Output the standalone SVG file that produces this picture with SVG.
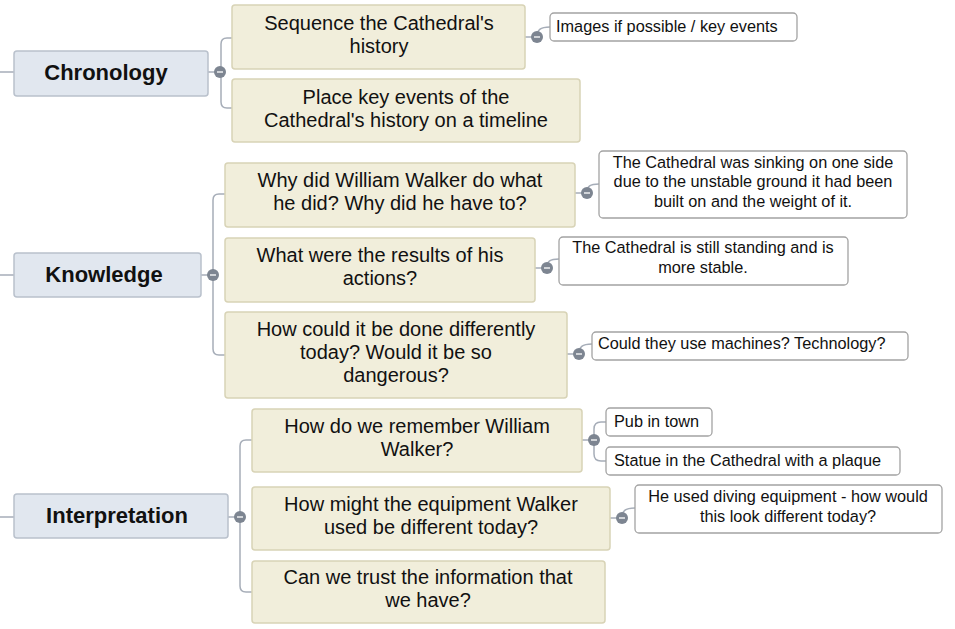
<svg xmlns="http://www.w3.org/2000/svg" width="955" height="629" viewBox="0 0 955 629">
<style>
.main rect{fill:#e1e7ef;stroke:#b9c1cc;stroke-width:1.5}
.main text{font-family:"Liberation Sans",Arial,sans-serif;font-weight:bold;font-size:22px;fill:#111;text-anchor:middle}
.q rect{fill:#f1eedb;stroke:#d8d3b6;stroke-width:1.5}
.q text{font-family:"Liberation Sans",Arial,sans-serif;font-size:20px;fill:#111;text-anchor:middle}
.a rect{fill:#fff;stroke:#a3a3a3;stroke-width:1.3}
.a text{font-family:"Liberation Sans",Arial,sans-serif;font-size:16.3px;fill:#111}
.a text.c{text-anchor:middle}
.conn path{fill:none;stroke:#a6adb8;stroke-width:1.5}
.dot circle{fill:#7d8591}
.dot path{stroke:#fff;stroke-width:1.3}
</style>
<g class="conn">
<path d="M0,72 H14"/>
<path d="M208,72 H221"/>
<path d="M232,38 H227 Q221,38 221,44 V102 Q221,108 227,108 H232"/>
<path d="M525,37 H537"/>
<path d="M537,37 C537,30 540,27 550,27"/>
<path d="M0,275 H14"/>
<path d="M201,275 H213"/>
<path d="M225,194 H219 Q213,194 213,200 V349 Q213,355 219,355 H225"/>
<path d="M575,193 H587"/>
<path d="M587,193 C587,186 590,184 599,184"/>
<path d="M535,268 H547"/>
<path d="M547,268 C547,261 550,259 559,259"/>
<path d="M567,354 H579"/>
<path d="M579,354 C579,347 582,344 592,344"/>
<path d="M0,517 H14"/>
<path d="M228,517 H240"/>
<path d="M252,440 H246 Q240,440 240,446 V586 Q240,592 246,592 H252"/>
<path d="M582,440 H594"/>
<path d="M606,422 H601 Q594,422 594,429 V454 Q594,461 601,461 H606"/>
<path d="M610,518 H622"/>
<path d="M622,518 C622,511 625,508 635,508"/>
</g>
<g id="chronology" class="main"><rect x="14" y="51" width="194" height="45" rx="3"/><text x="106" y="80">Chronology</text></g>
<g id="knowledge" class="main"><rect x="14" y="253" width="187" height="44" rx="3"/><text x="104" y="282">Knowledge</text></g>
<g id="interpretation" class="main"><rect x="14" y="494" width="214" height="44" rx="3"/><text x="117" y="523">Interpretation</text></g>
<g id="q-sequence" class="q"><rect x="232" y="5" width="293" height="64" rx="3"/><text x="379" y="29.5">Sequence the Cathedral's</text><text x="379" y="52.5">history</text></g>
<g id="q-place" class="q"><rect x="232" y="79" width="348" height="63" rx="3"/><text x="406" y="104">Place key events of the</text><text x="406" y="127">Cathedral's history on a timeline</text></g>
<g id="q-why" class="q"><rect x="225" y="163" width="350" height="64" rx="3"/><text x="400" y="187">Why did William Walker do what</text><text x="400" y="210">he did? Why did he have to?</text></g>
<g id="q-results" class="q"><rect x="225" y="238" width="310" height="64" rx="3"/><text x="380" y="262">What were the results of his</text><text x="380" y="285">actions?</text></g>
<g id="q-how" class="q"><rect x="225" y="312" width="342" height="86" rx="3"/><text x="396" y="336">How could it be done differently</text><text x="396" y="359">today? Would it be so</text><text x="396" y="382">dangerous?</text></g>
<g id="q-remember" class="q"><rect x="252" y="409" width="330" height="63" rx="3"/><text x="417" y="433">How do we remember William</text><text x="417" y="456">Walker?</text></g>
<g id="q-equipment" class="q"><rect x="252" y="487" width="358" height="63" rx="3"/><text x="431" y="511">How might the equipment Walker</text><text x="431" y="534">used be different today?</text></g>
<g id="q-trust" class="q"><rect x="252" y="561" width="353" height="62" rx="3"/><text x="428" y="584">Can we trust the information that</text><text x="428" y="607">we have?</text></g>
<g id="a-images" class="a"><rect x="550" y="13" width="247" height="28" rx="4"/><text x="556" y="32">Images if possible / key events</text></g>
<g id="a-sinking" class="a"><rect x="599" y="151" width="308" height="67" rx="4"/><text class="c" x="753" y="168">The Cathedral was sinking on one side</text><text class="c" x="753" y="187">due to the unstable ground it had been</text><text class="c" x="753" y="207">built on and the weight of it.</text></g>
<g id="a-standing" class="a"><rect x="559" y="237" width="289" height="48" rx="4"/><text class="c" x="703" y="253">The Cathedral is still standing and is</text><text class="c" x="703" y="273">more stable.</text></g>
<g id="a-machines" class="a"><rect x="592" y="332" width="316" height="28" rx="4"/><text x="598" y="349">Could they use machines? Technology?</text></g>
<g id="a-pub" class="a"><rect x="606" y="408" width="106" height="28" rx="4"/><text x="614" y="427">Pub in town</text></g>
<g id="a-statue" class="a"><rect x="606" y="447" width="294" height="28" rx="4"/><text x="614" y="466">Statue in the Cathedral with a plaque</text></g>
<g id="a-diving" class="a"><rect x="635" y="485" width="307" height="48" rx="4"/><text class="c" x="788" y="502">He used diving equipment - how would</text><text class="c" x="788" y="522">this look different today?</text></g>
<g class="dot">
<circle cx="220" cy="72" r="6"/><path d="M217,72 H223"/>
<circle cx="537" cy="37" r="6"/><path d="M534,37 H540"/>
<circle cx="213" cy="275" r="6"/><path d="M210,275 H216"/>
<circle cx="587" cy="193" r="6"/><path d="M584,193 H590"/>
<circle cx="547" cy="268" r="6"/><path d="M544,268 H550"/>
<circle cx="579" cy="354" r="6"/><path d="M576,354 H582"/>
<circle cx="240" cy="517" r="6"/><path d="M237,517 H243"/>
<circle cx="594" cy="440" r="6"/><path d="M591,440 H597"/>
<circle cx="622" cy="518" r="6"/><path d="M619,518 H625"/>
</g>
</svg>
